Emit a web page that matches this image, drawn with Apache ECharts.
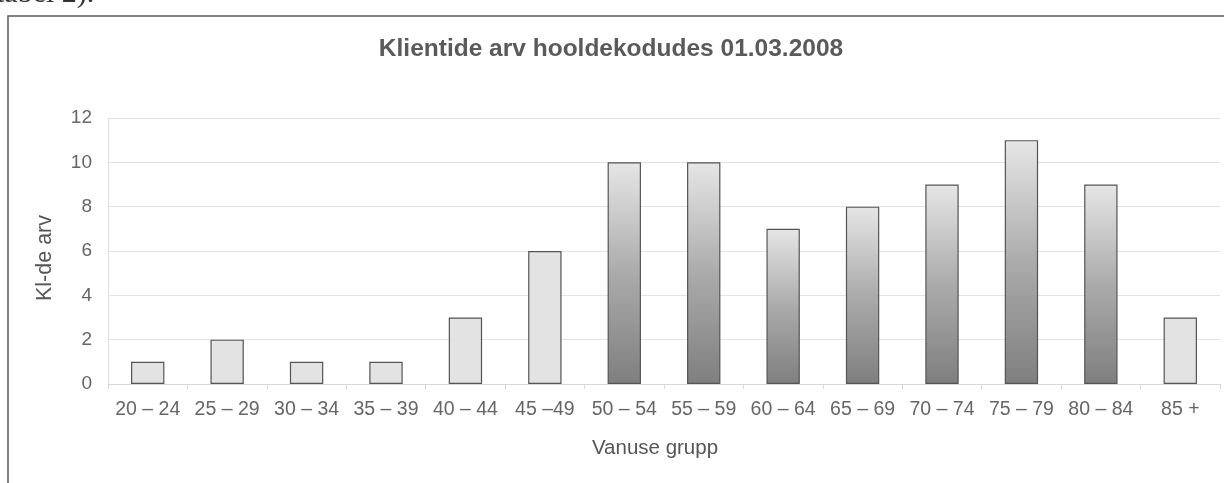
<!DOCTYPE html>
<html>
<head>
<meta charset="utf-8">
<script src="https://cdn.jsdelivr.net/npm/echarts@6/dist/echarts.min.js"></script>
<style>
html,body{margin:0;padding:0;background:#fff;}
#c{width:1224px;height:483px;}
</style>
</head>
<body>
<div id="c"></div>
<script>
const categories = ['20 – 24','25 – 29','30 – 34','35 – 39','40 – 44','45 –49','50 – 54','55 – 59','60 – 64','65 – 69','70 – 74','75 – 79','80 – 84','85 +'];
const clients = [1, 2, 1, 1, 3, 6, 10, 10, 7, 8, 9, 11, 9, 3];
const yTicks = [0, 2, 4, 6, 8, 10, 12];
const shadedCategories = ['50 – 54','55 – 59','60 – 64','65 – 69','70 – 74','75 – 79','80 – 84'];

const chart = echarts.init(document.getElementById('c'), null, {renderer:'canvas'});
const lightFill = '#e3e3e3';
const gradFill = new echarts.graphic.LinearGradient(0,0,0,1,[
  {offset:0, color:'#e6e6e6'},
  {offset:0.5, color:'#ababab'},
  {offset:1, color:'#7f7f7f'}
]);
const fontFam = '"Liberation Sans", Arial, sans-serif';

chart.setOption({
  animation:false,
  backgroundColor:'#fff',
  title:{
    text:'Klientide arv hooldekodudes 01.03.2008',
    left:606, top:32, textAlign:'center',
    textStyle:{fontFamily:fontFam, fontSize:24.5, fontWeight:'bold', color:'#5a5a5a'}
  },
  graphic:[
    {type:'rect', shape:{x:8, y:16, width:1240, height:520}, style:{fill:'none', stroke:'#5a5a5a', lineWidth:1.5}, silent:true},
    {type:'text', x:-4, y:9, style:{text:'tabel 2).', font:'30px "Liberation Serif", serif', fill:'#333', textVerticalAlign:'bottom'}}
  ],
  grid:{left:108, right:4, top:118, bottom:99},
  xAxis:{
    type:'category',
    data:categories,
    name:'Vanuse grupp',
    nameLocation:'middle',
    nameGap:54,
    nameTextStyle:{fontFamily:fontFam, fontSize:20.5, color:'#555', padding:[0,18,0,0]},
    axisLine:{lineStyle:{color:'#d8d8d8'}},
    axisTick:{show:true, length:5, lineStyle:{color:'#d8d8d8'}},
    axisLabel:{interval:0, margin:16, fontFamily:fontFam, fontSize:19.5, color:'#666'}
  },
  yAxis:{
    type:'value',
    min:yTicks[0], max:yTicks[yTicks.length-1], interval:2,
    name:'Kl-de arv',
    nameLocation:'middle',
    nameGap:52,
    nameRotate:90,
    nameTextStyle:{fontFamily:fontFam, fontSize:21.5, color:'#555', padding:[0,14,0,0]},
    axisLine:{show:true, lineStyle:{color:'#e0e0e0'}},
    axisTick:{show:false},
    axisLabel:{margin:16, fontFamily:fontFam, fontSize:19, color:'#666'},
    splitLine:{lineStyle:{color:'#e2e2e2'}}
  },
  series:[{
    type:'bar',
    barWidth:'42%',
    data:clients.map((v,i)=>({
      value:v,
      itemStyle:{color: shadedCategories.includes(categories[i]) ? gradFill : lightFill}
    })),
    itemStyle:{borderColor:'#555', borderWidth:1.2}
  }]
});
</script>
</body>
</html>
